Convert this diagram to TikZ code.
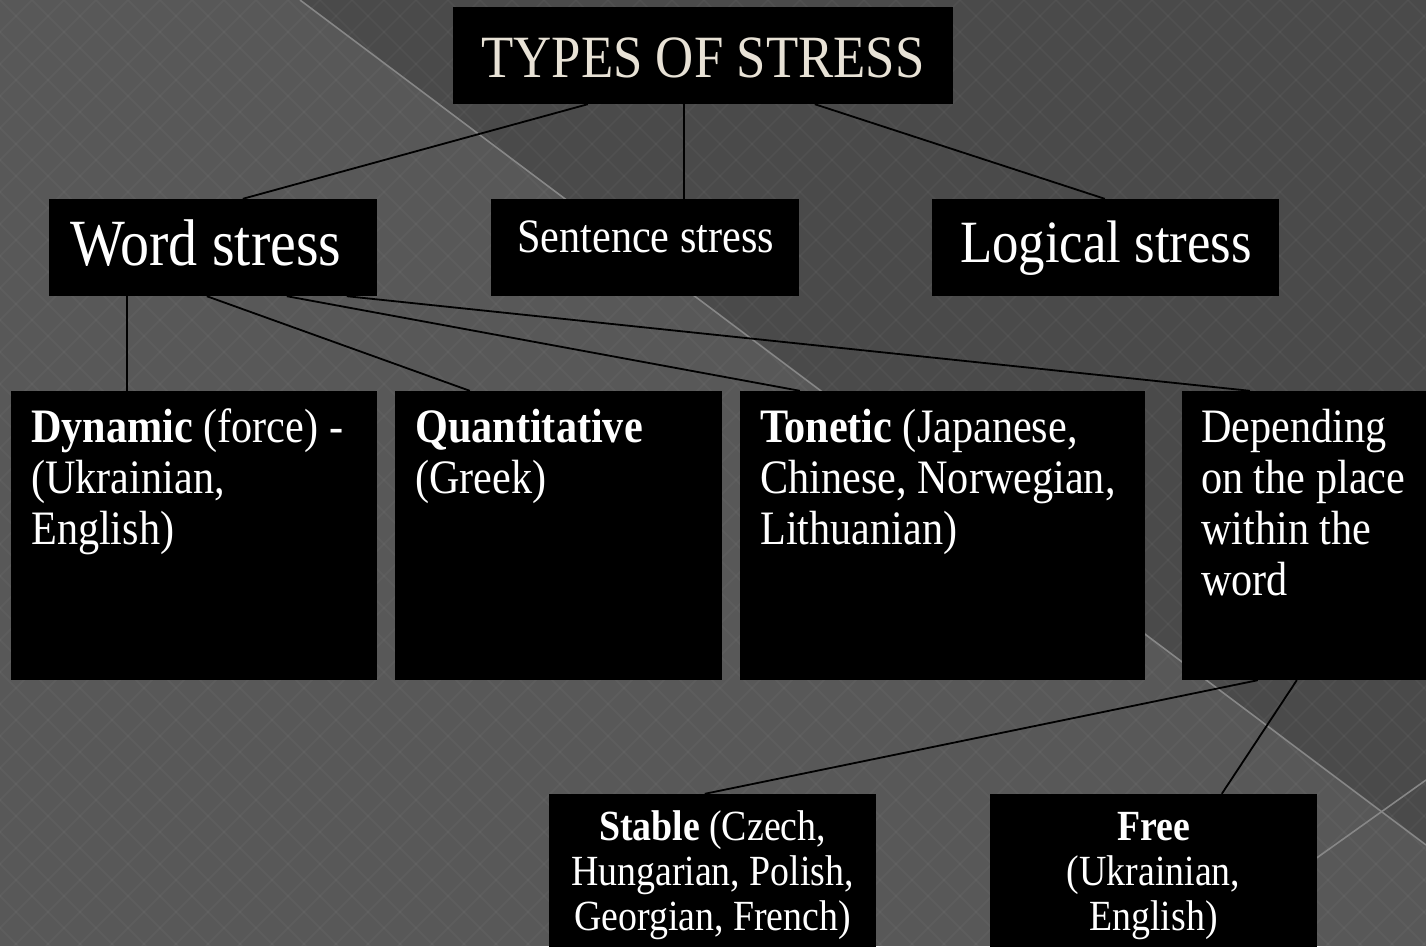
\documentclass[tikz,border=0pt]{standalone}
\usepackage{fontspec}
\setmainfont[FakeStretch=0.88]{Liberation Serif}
\usetikzlibrary{calc}
\definecolor{bglight}{RGB}{88,88,88}
\definecolor{bgdark}{RGB}{74,74,74}
\definecolor{streak}{RGB}{135,135,135}
\definecolor{titletext}{RGB}{232,226,214}
\begin{document}
\begin{tikzpicture}[x=1pt,y=-1pt,
  box/.style={fill=black, draw=none, inner sep=0pt},
  conn/.style={draw=black, line width=1.8pt},
  hatch/.style={draw=white, opacity=0.035, line width=1.6pt},
  body/.style={text=white, inner sep=0pt, anchor=base west, align=flush left, text width=#1,
    font=\fontsize{48}{51}\selectfont},
  lowtext/.style={text=white, inner sep=0pt, anchor=base, align=flush center, text width=320pt,
    font=\fontsize{43}{45}\selectfont},
  head/.style={text=white, inner sep=0pt, anchor=base west}
]
\useasboundingbox (0,0) rectangle (1426,946);
\clip (0,0) rectangle (1426,946);
% background
\fill[bglight] (0,0) rectangle (1426,946);
\fill[bgdark] (300,0) -- (1426,0) -- (1426,845) -- cycle;
\foreach \i in {-960,-928,...,2400} {
  \draw[hatch] (\i,0) -- ++(946,946);
  \draw[hatch] (\i,0) -- ++(-946,946);
}
\draw[streak, line width=1.6pt] (300,0) -- (1426,845);
\draw[streak, line width=1.6pt] (1193,946) -- (1426,780);

% boxes
\node[box, minimum width=500pt, minimum height=97pt] (title) at (703,55.5) {};
\node[box, minimum width=328pt, minimum height=97pt] (word) at (213,247.5) {};
\node[box, minimum width=308pt, minimum height=97pt] (sent) at (645,247.5) {};
\node[box, minimum width=347pt, minimum height=97pt] (logic) at (1105.5,247.5) {};
\node[box, minimum width=366pt, minimum height=289pt] (dyn) at (194,535.5) {};
\node[box, minimum width=327pt, minimum height=289pt] (quant) at (558.5,535.5) {};
\node[box, minimum width=405pt, minimum height=289pt] (tone) at (942.5,535.5) {};
\node[box, minimum width=260pt, minimum height=289pt] (dep) at (1312,535.5) {};
\node[box, minimum width=327pt, minimum height=170pt] (stable) at (712.5,879) {};
\node[box, minimum width=327pt, minimum height=170pt] (free) at (1153.5,879) {};

% connectors
\draw[conn] ([xshift=135pt]title.south west) -- ([xshift=194pt]word.north west);
\draw[conn] ([xshift=231pt]title.south west) -- ([xshift=193pt]sent.north west);
\draw[conn] ([xshift=362pt]title.south west) -- ([xshift=173pt]logic.north west);
\draw[conn] ([xshift=78pt]word.south west) -- ([xshift=116pt]dyn.north west);
\draw[conn] ([xshift=158pt]word.south west) -- ([xshift=75pt]quant.north west);
\draw[conn] ([xshift=238pt]word.south west) -- ([xshift=60pt]tone.north west);
\draw[conn] ([xshift=298pt]word.south west) -- ([xshift=68pt]dep.north west);
\draw[conn] ([xshift=76pt]dep.south west) -- ([xshift=156pt]stable.north west);
\draw[conn] ([xshift=115pt]dep.south west) -- ([xshift=232pt]free.north west);

% texts
\node[text=titletext, inner sep=0pt, font=\fontsize{60}{66}\selectfont] (titletxt) at (703,58) {TYPES OF STRESS};
\node[head, font=\fontsize{66}{70}\selectfont] (wordtxt) at (70,265) {Word stress};
\node[head, font=\fontsize{48}{52}\selectfont] (senttxt) at (517,252) {Sentence stress};
\node[head, font=\fontsize{60}{66}\selectfont] (logictxt) at (960,262) {Logical stress};
\node[body=340pt] (dyntxt) at (31,442) {\textbf{Dynamic} (force) -\\(Ukrainian,\\English)};
\node[body=300pt] (quanttxt) at (415,442) {\textbf{Quantitative}\\(Greek)};
\node[body=380pt] (tonetxt) at (760,442) {\textbf{Tonetic} (Japanese,\\Chinese, Norwegian,\\Lithuanian)};
\node[body=220pt] (deptxt) at (1201,442) {Depending\\on the place\\within the\\word};
\node[lowtext] (stabletxt) at (712.5,840) {\textbf{Stable} (Czech,\\Hungarian, Polish,\\Georgian, French)};
\node[lowtext] (freetxt) at (1153.5,840) {\textbf{Free}\\(Ukrainian,\\English)};
\end{tikzpicture}
\end{document}
